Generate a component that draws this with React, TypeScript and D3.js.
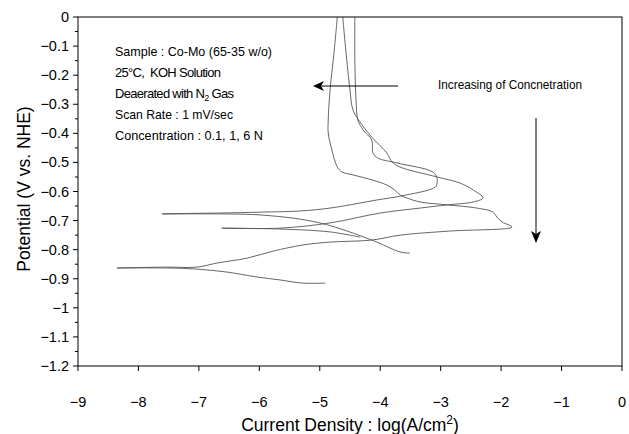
import React from "react";
import * as d3 from "d3";

const xTicks = [-9, -8, -7, -6, -5, -4, -3, -2, -1, 0];
const yTicks = [0, -0.1, -0.2, -0.3, -0.4, -0.5, -0.6, -0.7, -0.8, -0.9, -1, -1.1, -1.2];

// 0.1 N
const logI_01 = [-3.51,-3.67,-4.14,-5.00,-5.96,-7.61,-6.65,-5.99,-5.33,-4.83,-4.05,-3.67,-3.09,-3.06,-3.06,-3.13,-3.72,-4.04,-4.12,-4.14,-4.28,-4.37,-4.40,-4.42,-4.42];
const E_01 = [-0.812,-0.808,-0.767,-0.708,-0.681,-0.677,-0.674,-0.671,-0.667,-0.657,-0.629,-0.616,-0.585,-0.571,-0.554,-0.533,-0.502,-0.485,-0.468,-0.423,-0.389,-0.354,-0.285,-0.148,0];

// 1 N
const logI_1 = [-4.33,-4.83,-5.66,-6.62,-5.66,-4.83,-4.00,-3.34,-2.89,-2.46,-2.30,-2.46,-2.68,-3.06,-3.67,-3.80,-3.89,-4.14,-4.30,-4.45,-4.50,-4.57,-4.62];
const E_1 = [-0.757,-0.739,-0.729,-0.726,-0.726,-0.708,-0.674,-0.657,-0.646,-0.636,-0.622,-0.595,-0.571,-0.550,-0.516,-0.499,-0.468,-0.413,-0.371,-0.320,-0.251,-0.113,0];

// 6 N
const logI_6 = [-4.91,-5.28,-5.66,-6.04,-6.535,-7.03,-7.53,-8.355,-7.53,-7.03,-6.70,-6.20,-5.77,-5.28,-4.83,-4.14,-3.67,-2.85,-1.82,-1.98,-2.07,-2.13,-2.40,-2.89,-3.34,-3.56,-3.67,-3.76,-3.89,-4.12,-4.45,-4.63,-4.71,-4.80,-4.86,-4.86,-4.83,-4.76,-4.71];
const E_6 = [-0.915,-0.915,-0.904,-0.894,-0.877,-0.867,-0.863,-0.863,-0.860,-0.860,-0.846,-0.829,-0.805,-0.784,-0.774,-0.767,-0.750,-0.736,-0.722,-0.705,-0.688,-0.671,-0.657,-0.646,-0.636,-0.622,-0.612,-0.595,-0.578,-0.561,-0.543,-0.533,-0.516,-0.457,-0.399,-0.354,-0.251,-0.113,0];

const series = [
  { x: logI_01, y: E_01 },
  { x: logI_1, y: E_1 },
  { x: logI_6, y: E_6 },
];

const W = 629, H = 434;
const L = 78, T = 17, R = 622, B = 366;

export default function App() {
  const x = d3.scaleLinear().domain([-9, 0]).range([L, R]);
  const y = d3.scaleLinear().domain([0, -1.2]).range([T, B]);
  const line = d3.line<[number, number]>().x(d => x(d[0])).y(d => y(d[1])).curve(d3.curveCatmullRom.alpha(0.5));
  const minor = d3.range(0, 24).map(i => -0.05 - i * 0.1).filter(v => v > -1.2);
  const font = "'Liberation Sans', Arial, sans-serif";
  return (
    <svg width={W} height={H} style={{ position: "absolute", left: 0, top: 0, background: "#fff" }} fontFamily={font}>
      <rect x={0} y={0} width={W} height={H} fill="#fff" />
      {series.map((s, i) => (
        <path key={i} d={line(s.x.map((v, j) => [v, s.y[j]]) as [number, number][]) || ""} fill="none" stroke="#555" strokeWidth={0.9} />
      ))}
      <rect x={L} y={T} width={R - L} height={B - T} fill="none" stroke="#000" strokeWidth={1} />
      {yTicks.map(t => (
        <g key={t}>
          <line x1={L - 5} x2={L} y1={y(t)} y2={y(t)} stroke="#000" />
          <text x={69} y={y(t) + 5} fontSize={14.5} textAnchor="end">{t === 0 ? "0" : "\u2212" + String(Math.abs(t))}</text>
        </g>
      ))}
      {minor.map(t => (
        <line key={t} x1={L - 3} x2={L} y1={y(t)} y2={y(t)} stroke="#000" />
      ))}
      {xTicks.map(t => (
        <g key={t}>
          <line x1={x(t)} x2={x(t)} y1={B} y2={B + 5} stroke="#000" />
          <text x={x(t)} y={407} fontSize={14.5} textAnchor="middle">{t === 0 ? "0" : "\u2212" + String(Math.abs(t))}</text>
        </g>
      ))}
      <text x={350} y={431} fontSize={17.5} textAnchor="middle">Current Density : log(A/cm<tspan dy={-7} fontSize={12}>2</tspan><tspan dy={7}>)</tspan></text>
      <text transform="translate(30,189) rotate(-90)" fontSize={17.5} textAnchor="middle">Potential (V vs. NHE)</text>
      <g fontSize={13}>
        <text x={115} y={56} textLength={157} lengthAdjust="spacingAndGlyphs">Sample : Co-Mo (65-35 w/o)</text>
        <text x={115} y={77} letterSpacing={-0.7}>{"25\u00b0C,\u00a0 KOH Solution"}</text>
        <text x={115} y={98} letterSpacing={-0.7}>Deaerated with N<tspan dy={3} fontSize={9}>2</tspan><tspan dy={-3}> Gas</tspan></text>
        <text x={115} y={119} textLength={118} lengthAdjust="spacingAndGlyphs">Scan Rate : 1 mV/sec</text>
        <text x={115} y={140} textLength={148} lengthAdjust="spacingAndGlyphs">Concentration : 0.1, 1, 6 N</text>
        <text x={438} y={89} textLength={144} lengthAdjust="spacingAndGlyphs">Increasing of Concnetration</text>
      </g>
      <line x1={398} x2={320} y1={86} y2={86} stroke="#000" strokeWidth={1} />
      <path d="M313,86 L324,81 L321,86 L324,91 Z" fill="#000" />
      <line x1={536} x2={536} y1={118} y2={236} stroke="#000" strokeWidth={1} />
      <path d="M536,243 L531,231 L536,234 L541,231 Z" fill="#000" />
    </svg>
  );
}
